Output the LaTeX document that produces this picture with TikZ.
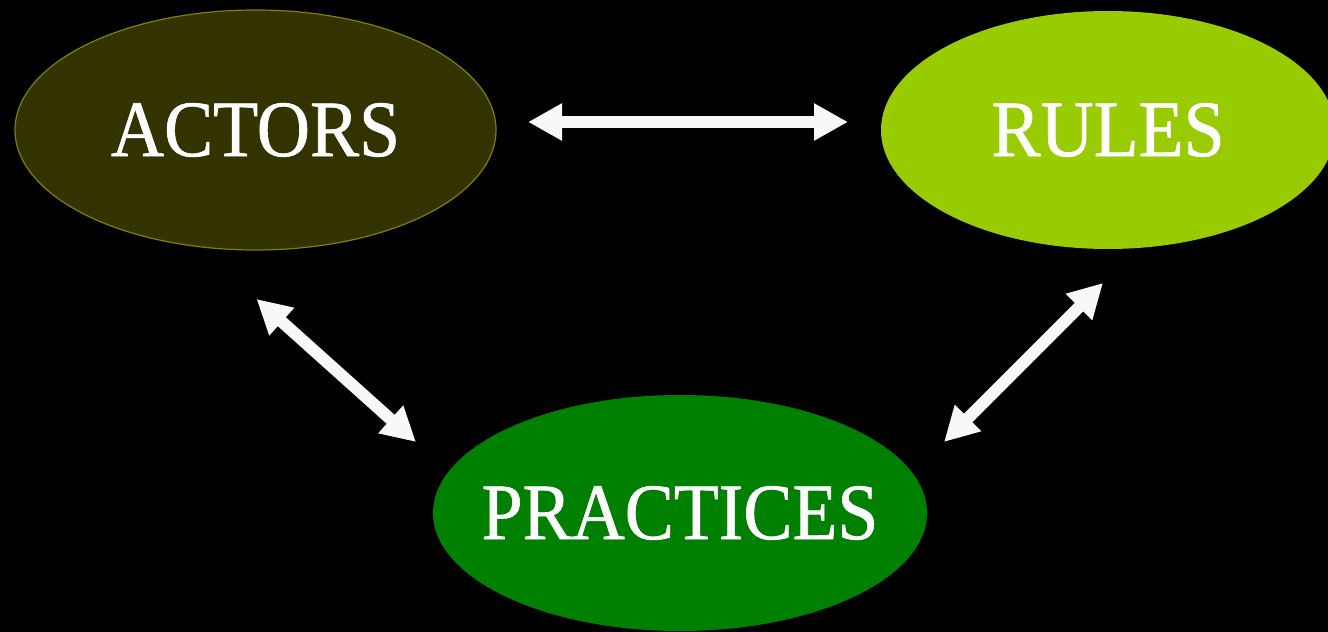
\documentclass[tikz,border=0pt]{standalone}
\usepackage{fontspec}
\setmainfont[FakeStretch=0.92,FakeBold=0.8]{Liberation Serif}
\usetikzlibrary{shapes.geometric,arrows.meta}

\definecolor{mydarkolive}{RGB}{51,51,0}
\definecolor{myolive}{RGB}{128,128,0}
\definecolor{mylimegreen}{RGB}{153,204,0}
\definecolor{mygreen}{RGB}{0,128,0}
\definecolor{myarrowwhite}{RGB}{248,248,248}

\begin{document}
\begin{tikzpicture}[x=1bp,y=-1bp,
    blob/.style={ellipse,inner sep=0pt,inner xsep=-40bp,outer sep=0pt,text=white,
      font=\fontsize{80bp}{80bp}\selectfont},
    twoway/.style={myarrowwhite,line width=12bp,
      {Triangle[width=35bp,length=34bp]}-{Triangle[width=35bp,length=34bp]}}]
  \fill[black] (0,0) rectangle (1328,632);
  \useasboundingbox (0,0) rectangle (1328,632);
  \node[blob,fill=mydarkolive,draw=myolive,line width=1.2bp,
        minimum width=481bp,minimum height=240bp] (actors) at (255.5,130) {ACTORS};
  \node[blob,fill=mylimegreen,minimum width=454bp,minimum height=238bp]
        (rules) at (1108,130) {RULES};
  \node[blob,fill=mygreen,minimum width=494bp,minimum height=236bp]
        (practices) at (680,513) {PRACTICES};
  % arrow ends, kept clear of the ellipses
  \coordinate (ar1) at ([xshift=32bp,yshift=8bp]actors.east);
  \coordinate (ar2) at ([xshift=-33bp,yshift=8bp]rules.west);
  \coordinate (ap1) at ([xshift=1bp,yshift=-49bp]actors.south);
  \coordinate (ap2) at ([xshift=-17bp,yshift=71bp]practices.west);
  \coordinate (rp1) at ([xshift=-5bp,yshift=-34bp]rules.south);
  \coordinate (rp2) at ([xshift=17bp,yshift=71bp]practices.east);
  \draw[twoway] (ar1) -- (ar2);
  \draw[twoway] (ap1) -- (ap2);
  \draw[twoway] (rp1) -- (rp2);
\end{tikzpicture}
\end{document}
